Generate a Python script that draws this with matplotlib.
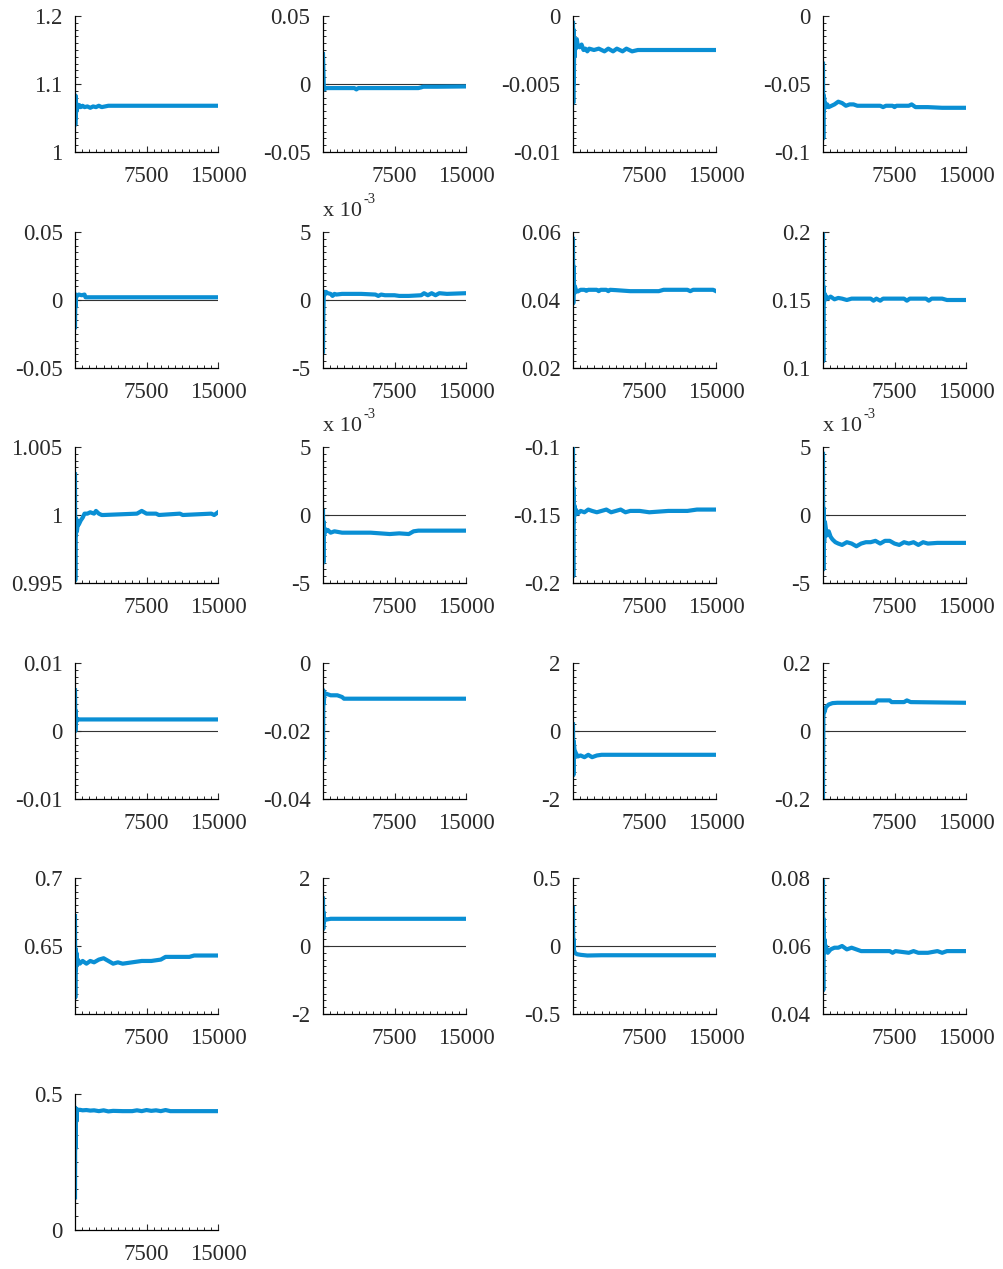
import numpy as np
import matplotlib.pyplot as plt
from matplotlib.ticker import MultipleLocator

plt.rcParams['font.family'] = ['Liberation Serif', 'DejaVu Serif']
plt.rcParams['axes.unicode_minus'] = False

# Rekursive Mittelwerte je Parameter (Iteration, Wert)
x1 = [1, 30, 60, 90, 120, 160, 220, 300, 450, 600, 800, 1000, 1300, 1600, 1900, 2200, 2500, 2800, 3500, 5000, 8000, 11000, 15000]
y1 = [1.080, 1.040, 1.083, 1.050, 1.072, 1.060, 1.070, 1.065, 1.069, 1.066, 1.068, 1.066, 1.067, 1.065, 1.067, 1.066, 1.068, 1.066, 1.068, 1.068, 1.068, 1.068, 1.068]

x2 = [1, 40, 80, 150, 300, 1000, 3300, 3500, 3700, 5000, 8000, 10000, 10300, 10500, 12000, 15000]
y2 = [0.022, 0.010, -0.001, -0.004, -0.003, -0.003, -0.003, -0.004, -0.003, -0.003, -0.003, -0.003, -0.0025, -0.002, -0.002, -0.0018]

x3 = [1, 30, 60, 90, 120, 160, 220, 300, 400, 500, 700, 900, 1100, 1300, 1500, 1700, 2200, 2700, 3300, 3700, 4200, 4600, 5200, 5600, 6200, 6800, 8000, 11000, 15000]
y3 = [-0.0005, -0.0064, -0.0010, -0.0050, -0.0022, -0.0030, -0.0018, -0.0024, -0.0017, -0.0022, -0.0023, -0.0021, -0.0025, -0.0024, -0.0026, -0.0024, -0.0025, -0.0024, -0.0026, -0.0024, -0.0026, -0.0024, -0.0026, -0.0024, -0.0026, -0.0025, -0.0025, -0.0025, -0.0025]

x4 = [1, 30, 60, 90, 120, 160, 220, 300, 450, 600, 900, 1200, 1600, 2000, 2400, 2800, 3200, 3600, 4500, 6000, 6300, 6600, 7300, 7500, 7700, 9000, 9300, 9700, 11000, 12500, 15000]
y4 = [-0.035, -0.090, -0.058, -0.070, -0.060, -0.068, -0.064, -0.067, -0.065, -0.067, -0.066, -0.065, -0.063, -0.064, -0.066, -0.065, -0.065, -0.066, -0.066, -0.066, -0.067, -0.066, -0.066, -0.067, -0.066, -0.066, -0.065, -0.067, -0.067, -0.0675, -0.0675]

x5 = [1, 40, 80, 120, 200, 400, 700, 1000, 1100, 2000, 5000, 10000, 15000]
y5 = [-0.020, 0.003, -0.005, 0.004, 0.003, 0.004, 0.0035, 0.004, 0.002, 0.002, 0.002, 0.002, 0.002]

x6 = [1, 40, 80, 120, 200, 300, 500, 800, 1000, 1200, 1400, 2000, 3000, 4000, 5500, 5800, 6100, 6500, 7500, 8000, 9000, 10300, 10600, 11000, 11400, 11800, 12200, 13000, 15000]
y6 = [-3.8, -1.0, 0.2, 0.6, 0.4, 0.6, 0.5, 0.45, 0.3, 0.45, 0.4, 0.45, 0.45, 0.45, 0.4, 0.3, 0.4, 0.35, 0.35, 0.3, 0.3, 0.35, 0.5, 0.35, 0.5, 0.35, 0.5, 0.45, 0.5]

x7 = [1, 30, 60, 100, 150, 200, 300, 500, 800, 1200, 1400, 1600, 2500, 2700, 2900, 3500, 3700, 3900, 4500, 6000, 9000, 9500, 10000, 12000, 12300, 12600, 14700, 15000]
y7 = [0.058, 0.039, 0.050, 0.045, 0.042, 0.044, 0.043, 0.0425, 0.0430, 0.0430, 0.0427, 0.0430, 0.0430, 0.0426, 0.0430, 0.0430, 0.0426, 0.0430, 0.0429, 0.0426, 0.0426, 0.0430, 0.0430, 0.0430, 0.0426, 0.0430, 0.0430, 0.0426]

x8 = [1, 30, 60, 100, 150, 200, 300, 500, 800, 1200, 1600, 2000, 2500, 3000, 5000, 5300, 5600, 6000, 6300, 8500, 8800, 9100, 10800, 11100, 11400, 12500, 13000, 15000]
y8 = [0.198, 0.105, 0.160, 0.148, 0.155, 0.150, 0.153, 0.151, 0.1525, 0.1505, 0.1515, 0.151, 0.150, 0.151, 0.151, 0.1495, 0.151, 0.1495, 0.151, 0.151, 0.1495, 0.151, 0.151, 0.1495, 0.151, 0.151, 0.150, 0.150]

x9 = [1, 30, 60, 100, 150, 200, 300, 400, 600, 800, 1000, 1300, 1600, 2000, 2200, 2500, 2800, 3000, 6500, 7000, 7500, 8500, 8800, 11000, 11300, 14300, 14600, 15000]
y9 = [1.003, 0.9952, 0.9998, 0.9985, 0.9997, 0.9988, 0.9994, 0.9993, 0.9996, 0.9998, 1.0001, 1.0001, 1.0002, 1.0001, 1.0003, 1.0001, 1.0000, 1.0000, 1.0001, 1.0003, 1.0001, 1.0001, 1.0000, 1.0001, 1.0000, 1.0001, 1.0000, 1.0002]

x10 = [1, 40, 80, 120, 200, 300, 500, 800, 1200, 2000, 3000, 4000, 5000, 6000, 7000, 8000, 9000, 9500, 10000, 12000, 15000]
y10 = [0.3, -3.5, -0.5, -1.5, -1.0, -1.2, -1.1, -1.3, -1.2, -1.3, -1.3, -1.3, -1.3, -1.35, -1.4, -1.35, -1.4, -1.2, -1.15, -1.15, -1.15]

x11 = [1, 30, 60, 100, 150, 200, 300, 500, 800, 1200, 1600, 2000, 2500, 3000, 3500, 4000, 4500, 5000, 5500, 6000, 7000, 8000, 10000, 12000, 13000, 15000]
y11 = [-0.100, -0.195, -0.130, -0.155, -0.143, -0.150, -0.146, -0.149, -0.147, -0.148, -0.146, -0.147, -0.148, -0.147, -0.146, -0.148, -0.147, -0.146, -0.148, -0.147, -0.147, -0.148, -0.147, -0.147, -0.146, -0.146]

x12 = [1, 40, 80, 120, 200, 300, 400, 600, 800, 1000, 1300, 1600, 2000, 2500, 3000, 3500, 4000, 4500, 5000, 5500, 6000, 6500, 7000, 7500, 8000, 8500, 9000, 9500, 10000, 10500, 11000, 12000, 15000]
y12 = [4.5, -4.0, 0.5, -2.0, -0.5, -1.0, -1.5, -1.2, -1.6, -1.8, -2.0, -2.1, -2.2, -2.0, -2.1, -2.3, -2.1, -2.0, -2.0, -1.9, -2.1, -1.9, -1.9, -2.1, -2.2, -2.0, -2.1, -2.0, -2.2, -2.0, -2.1, -2.05, -2.05]

x13 = [1, 40, 80, 120, 200, 400, 1000, 3000, 15000]
y13 = [0.006, 0.000, 0.003, 0.0013, 0.0018, 0.0017, 0.0017, 0.0017, 0.0017]

x14 = [1, 40, 80, 150, 300, 800, 1500, 2000, 2200, 4000, 15000]
y14 = [-0.028, -0.008, -0.012, -0.009, -0.009, -0.0095, -0.0095, -0.010, -0.0105, -0.0105, -0.0105]

x15 = [1, 40, 80, 150, 300, 500, 800, 1200, 1600, 2000, 2500, 3000, 15000]
y15 = [0.2, -1.3, -0.3, -0.55, -0.65, -0.75, -0.72, -0.77, -0.7, -0.77, -0.72, -0.7, -0.7]

x16 = [1, 40, 80, 150, 300, 600, 1000, 1500, 3000, 5500, 5700, 7000, 7200, 8500, 8800, 9200, 12000, 15000]
y16 = [-0.200, 0.040, 0.060, 0.055, 0.070, 0.078, 0.082, 0.083, 0.083, 0.083, 0.090, 0.090, 0.085, 0.085, 0.090, 0.085, 0.084, 0.083]

x17 = [1, 30, 60, 100, 150, 200, 300, 500, 800, 1200, 1600, 2000, 2500, 3000, 3500, 4000, 4500, 5000, 6000, 7000, 8000, 9000, 9500, 12000, 12500, 15000]
y17 = [0.672, 0.612, 0.648, 0.632, 0.645, 0.636, 0.640, 0.637, 0.639, 0.637, 0.639, 0.638, 0.640, 0.641, 0.639, 0.637, 0.638, 0.637, 0.638, 0.639, 0.639, 0.640, 0.642, 0.642, 0.643, 0.643]

x18 = [1, 30, 60, 100, 200, 400, 800, 2000, 15000]
y18 = [1.4, 0.5, 1.0, 0.7, 0.8, 0.78, 0.8, 0.8, 0.8]

x19 = [1, 30, 60, 100, 200, 400, 800, 1500, 3000, 15000]
y19 = [0.28, -0.02, 0.05, -0.03, -0.05, -0.06, -0.065, -0.07, -0.068, -0.068]

x20 = [1, 30, 60, 100, 150, 200, 300, 500, 800, 1200, 1600, 2000, 2500, 3000, 3500, 4000, 5000, 6000, 7000, 7300, 7600, 9000, 9500, 10000, 11000, 12000, 12500, 13000, 15000]
y20 = [0.079, 0.047, 0.068, 0.058, 0.062, 0.059, 0.060, 0.058, 0.059, 0.0595, 0.0595, 0.060, 0.059, 0.0595, 0.059, 0.0585, 0.0585, 0.0585, 0.0585, 0.058, 0.0585, 0.058, 0.0585, 0.058, 0.058, 0.0585, 0.058, 0.0585, 0.0585]

x21 = [1, 30, 60, 100, 150, 200, 300, 500, 800, 1200, 1600, 2000, 2500, 3000, 3500, 4000, 5000, 6000, 6500, 7000, 7500, 8000, 8500, 9000, 9500, 10000, 12000, 15000]
y21 = [0.12, 0.45, 0.30, 0.44, 0.40, 0.445, 0.44, 0.442, 0.440, 0.441, 0.439, 0.440, 0.437, 0.440, 0.436, 0.438, 0.437, 0.437, 0.440, 0.437, 0.441, 0.438, 0.440, 0.437, 0.441, 0.437, 0.437, 0.437]

xs = [x1, x2, x3, x4, x5, x6, x7, x8, x9, x10, x11, x12, x13, x14, x15, x16, x17, x18, x19, x20, x21]
ys = [y1, y2, y3, y4, y5, y6, y7, y8, y9, y10, y11, y12, y13, y14, y15, y16, y17, y18, y19, y20, y21]

# y-Achsen: Grenzen, beschriftete Ticks, Skalierung (x 10^-3)
ylims = [(1, 1.2), (-0.05, 0.05), (-0.01, 0), (-0.1, 0),
         (-0.05, 0.05), (-5, 5), (0.02, 0.06), (0.1, 0.2),
         (0.995, 1.005), (-5, 5), (-0.2, -0.1), (-5, 5),
         (-0.01, 0.01), (-0.04, 0), (-2, 2), (-0.2, 0.2),
         (0.6, 0.7), (-2, 2), (-0.5, 0.5), (0.04, 0.08),
         (0, 0.5)]
yticks = [[1, 1.1, 1.2], [-0.05, 0, 0.05], [-0.01, -0.005, 0], [-0.1, -0.05, 0],
          [-0.05, 0, 0.05], [-5, 0, 5], [0.02, 0.04, 0.06], [0.1, 0.15, 0.2],
          [0.995, 1, 1.005], [-5, 0, 5], [-0.2, -0.15, -0.1], [-5, 0, 5],
          [-0.01, 0, 0.01], [-0.04, -0.02, 0], [-2, 0, 2], [-0.2, 0, 0.2],
          [0.65, 0.7], [-2, 0, 2], [-0.5, 0, 0.5], [0.04, 0.06, 0.08],
          [0, 0.5]]
scaled = [5, 9, 11]
n_minor = [20] * 20 + [10]

blue = '#0A8FD4'
txt = '#2a2a2a'
W, H = 1004, 1269
col_left = [75, 323, 573, 823]
row_bottom = [152, 368, 583, 799, 1014, 1230]
aw, ah = 143, 136

fig = plt.figure(figsize=(W / 100, H / 100), dpi=100)

for i in range(21):
    r, c = divmod(i, 4)
    ax = fig.add_axes([col_left[c] / W, 1 - row_bottom[r] / H, aw / W, ah / H])
    lo, hi = ylims[i]
    if lo < 0 < hi:
        ax.axhline(0, color='#333333', lw=0.8, zorder=1)
    ax.plot(xs[i], ys[i], color=blue, lw=3.0, solid_joinstyle='round', zorder=2)
    ax.set_xlim(0, 15000)
    ax.set_ylim(lo, hi)
    ax.set_xticks([7500, 15000], labels=['7500', '15000'])
    ax.xaxis.set_minor_locator(MultipleLocator(750))
    ax.set_yticks(yticks[i], labels=['%g' % v for v in yticks[i]])
    ax.yaxis.set_minor_locator(MultipleLocator((hi - lo) / n_minor[i]))
    for s in ['top', 'right']:
        ax.spines[s].set_visible(False)
    for s in ['left', 'bottom']:
        ax.spines[s].set_linewidth(0.9)
    ax.tick_params(which='both', direction='in', labelsize=16.5, colors=txt)
    ax.tick_params(which='major', length=4, width=0.8)
    ax.tick_params(axis='y', which='major', pad=9)
    ax.tick_params(axis='x', which='major', pad=10)
    ax.tick_params(which='minor', length=2, width=0.7)
    if i in scaled:
        ax.annotate('x 10', xy=(0, 1), xycoords='axes fraction', xytext=(0, 8),
                    textcoords='offset points', fontsize=16, color=txt,
                    ha='left', va='bottom')
        ax.annotate('-3', xy=(0, 1), xycoords='axes fraction', xytext=(29, 19),
                    textcoords='offset points', fontsize=10.5, color=txt,
                    ha='left', va='bottom')

fig.savefig('out.png', dpi=100)
